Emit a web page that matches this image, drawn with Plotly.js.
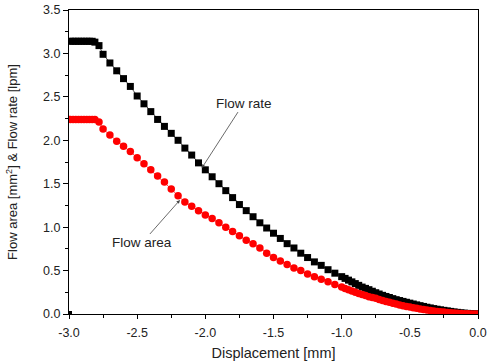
<!DOCTYPE html>
<html>
<head>
<meta charset="utf-8">
<script src="https://cdn.plot.ly/plotly-3.0.1.min.js"></script>
<style>html,body{margin:0;padding:0;background:#fff;}#chart{width:487px;height:363px;}</style>
</head>
<body>
<div id="chart"></div>
<script>
// Displacement [mm] (shared x for both series)
var displacement = [
  -2.99,-2.97,-2.95,-2.93,-2.91,-2.89,-2.87,-2.85,-2.83,-2.81,
  -2.78,-2.75,-2.70,-2.65,-2.60,-2.55,-2.50,-2.45,-2.40,-2.35,
  -2.30,-2.25,-2.20,-2.15,-2.10,-2.05,-2.00,-1.95,-1.90,-1.85,
  -1.80,-1.75,-1.70,-1.65,-1.60,-1.55,-1.50,-1.45,-1.40,-1.35,
  -1.30,-1.25,-1.20,-1.15,-1.10,-1.05,
  -1.000,-0.975,-0.950,-0.925,-0.900,-0.875,-0.850,-0.825,-0.800,-0.775,
  -0.750,-0.725,-0.700,-0.675,-0.650,-0.625,-0.600,-0.575,-0.550,-0.525,
  -0.500,-0.475,-0.450,-0.425,-0.400,-0.375,-0.350,-0.325,-0.300,-0.275,
  -0.250,-0.225,-0.200,-0.175,-0.150,-0.125,-0.100,-0.075,-0.050,-0.025,0.0
];
// Flow rate [lpm]
var flowRate = [
  3.14,3.14,3.14,3.14,3.14,3.14,3.14,3.14,3.14,3.13,
  3.09,2.99,2.89,2.80,2.71,2.62,2.51,2.42,2.33,2.24,
  2.16,2.08,2.00,1.91,1.83,1.74,1.66,1.58,1.50,1.42,
  1.34,1.26,1.19,1.12,1.05,0.99,0.93,0.87,0.81,0.76,
  0.70,0.65,0.60,0.56,0.51,0.47,
  0.43,0.41,0.39,0.37,0.35,0.33,0.31,0.295,0.28,0.262,
  0.245,0.23,0.215,0.202,0.19,0.177,0.165,0.155,0.145,0.135,
  0.125,0.115,0.105,0.096,0.087,0.078,0.07,0.062,0.055,0.048,
  0.042,0.036,0.03,0.024,0.019,0.014,0.01,0.007,0.004,0.002,0.0
];
// Flow area [mm^2]
var flowArea = [
  2.24,2.24,2.24,2.24,2.24,2.24,2.24,2.24,2.24,2.24,
  2.21,2.13,2.06,1.99,1.93,1.87,1.80,1.73,1.66,1.59,
  1.52,1.44,1.36,1.29,1.24,1.19,1.14,1.10,1.05,1.00,
  0.95,0.90,0.85,0.81,0.76,0.70,0.65,0.61,0.57,0.53,
  0.50,0.46,0.43,0.40,0.37,0.34,
  0.31,0.295,0.28,0.265,0.25,0.237,0.225,0.212,0.20,0.19,
  0.18,0.167,0.155,0.145,0.135,0.125,0.115,0.105,0.095,0.087,
  0.08,0.072,0.065,0.058,0.052,0.046,0.04,0.035,0.03,0.026,
  0.022,0.018,0.015,0.012,0.009,0.006,0.004,0.002,0.001,0.0005,0.0
];
// stray first flow-rate sample
var strayX = [-3.0];
var strayY = [0.0];

var xTickVals = [-3.0,-2.5,-2.0,-1.5,-1.0,-0.5,0.0];
var xTickText = ["-3.0","-2.5","-2.0","-1.5","-1.0","-0.5","0.0"];
var yTickVals = [0.0,0.5,1.0,1.5,2.0,2.5,3.0,3.5];
var yTickText = ["0.0","0.5","1.0","1.5","2.0","2.5","3.0","3.5"];

var font = "Liberation Sans, Arial, sans-serif";

var traces = [
  {x: displacement, y: flowRate, mode: "lines+markers", name: "Flow rate",
   line: {color: "#000", width: 0.7},
   marker: {symbol: "square", size: 7, color: "#000"}},
  {x: strayX, y: strayY, mode: "markers", name: "stray",
   marker: {symbol: "square", size: 6, color: "#000"}},
  {x: displacement, y: flowArea, mode: "lines+markers", name: "Flow area",
   line: {color: "#ff0000", width: 0.7},
   marker: {symbol: "circle", size: 7.5, color: "#ff0000"}}
];

var layout = {
  width: 487, height: 363,
  margin: {l: 69, r: 9, t: 10, b: 49},
  paper_bgcolor: "#fff", plot_bgcolor: "#fff",
  showlegend: false,
  font: {family: font, size: 12, color: "#222"},
  xaxis: {
    range: [-3.0, 0.0], tickvals: xTickVals, ticktext: xTickText,
    ticks: "outside", ticklen: 4, tickwidth: 1, tickcolor: "#000",
    minor: {dtick: 0.25, ticks: "outside", ticklen: 3, tickwidth: 1, tickcolor: "#000"},
    showline: true, linecolor: "#000", linewidth: 1, mirror: true,
    showgrid: false, zeroline: false, ticklabelstandoff: 3,
    tickfont: {family: font, size: 12.5, color: "#222"},
    title: {text: "Displacement [mm]", font: {family: font, size: 14.5, color: "#222"}, standoff: 8}
  },
  yaxis: {
    range: [0.0, 3.5], tickvals: yTickVals, ticktext: yTickText,
    ticks: "outside", ticklen: 5, tickwidth: 1, tickcolor: "#000",
    minor: {dtick: 0.25, ticks: "outside", ticklen: 3, tickwidth: 1, tickcolor: "#000"},
    showline: true, linecolor: "#000", linewidth: 1, mirror: true,
    showgrid: false, zeroline: false,
    tickfont: {family: font, size: 12.5, color: "#222"},
    title: {text: "Flow area [mm<sup>2</sup>] & Flow rate [lpm]", font: {family: font, size: 13, color: "#222"}, standoff: 22}
  },
  annotations: [
    {x: -2.026, y: 1.68, xref: "x", yref: "y", text: "Flow rate", showarrow: true,
     ax: 42, ay: -65, arrowhead: 2, arrowsize: 0.9, arrowwidth: 0.8, arrowcolor: "#444",
     font: {family: font, size: 13.5, color: "#222"}},
    {x: -2.186, y: 1.313, xref: "x", yref: "y", text: "Flow area", showarrow: true,
     ax: -38, ay: 43, arrowhead: 2, arrowsize: 0.9, arrowwidth: 0.8, arrowcolor: "#444",
     font: {family: font, size: 13.5, color: "#222"}}
  ]
};

Plotly.newPlot("chart", traces, layout, {displayModeBar: false, staticPlot: true});
</script>
</body>
</html>
